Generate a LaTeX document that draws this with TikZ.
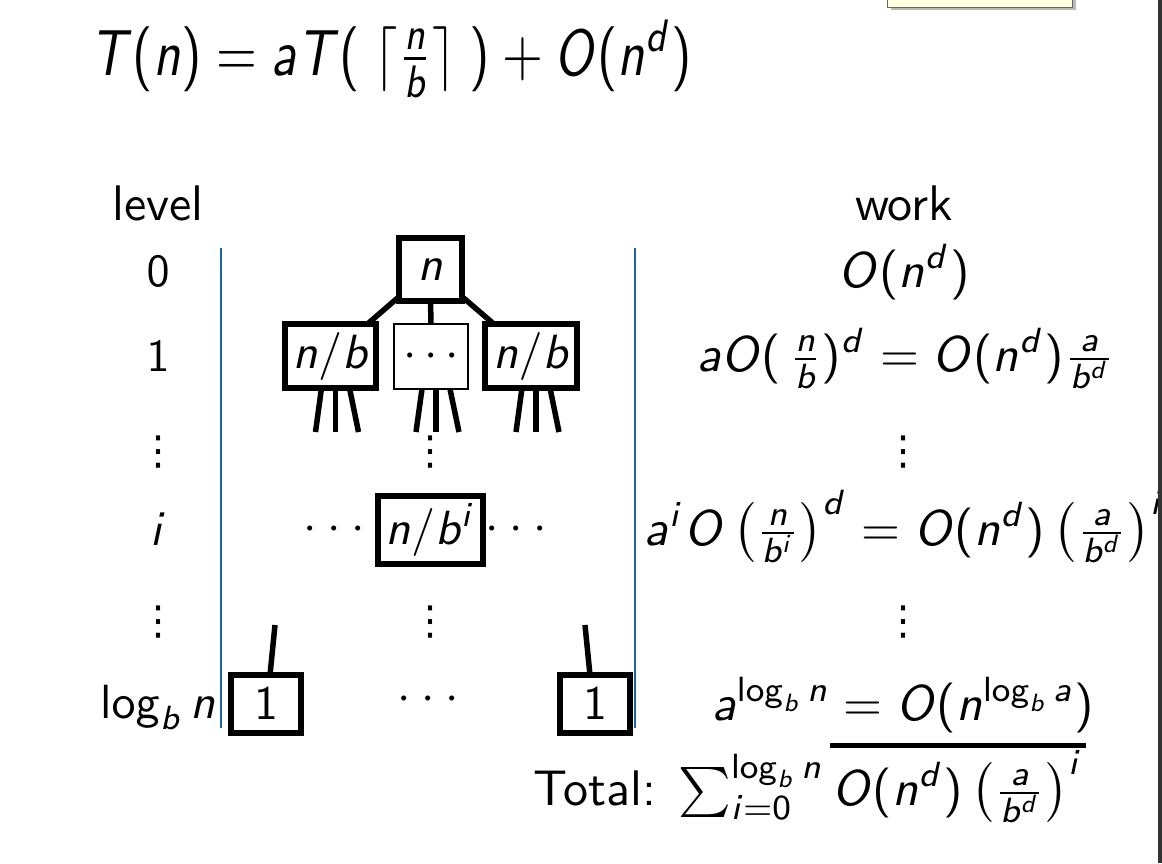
\documentclass[tikz,border=0pt]{standalone}
\usepackage{graphicx}
\usepackage[no-math]{fontspec}
\newfontfamily\dejavu{DejaVu Sans}
\SetSymbolFont{operators}{normal}{OT1}{cmss}{m}{n}
\SetSymbolFont{letters}{normal}{OT1}{cmss}{m}{sl}
\SetSymbolFont{symbols}{normal}{OMS}{cmsy}{m}{n}
\SetSymbolFont{largesymbols}{normal}{OMX}{cmex}{m}{n}
\mathcode`\/="002F
\newcommand{\sbx}[2]{\scalebox{#1}{#2}}
\newcommand{\myVd}{{\dejavu ⋮}}
\newcommand{\myDots}{$\cdot\mkern4mu{\cdot}\mkern4mu{\cdot}$}
\definecolor{rulecol}{RGB}{30,100,170}
\definecolor{tipfill}{RGB}{255,255,225}
\tikzset{
  treebox/.style={draw, line width=6pt, inner sep=0pt, outer sep=0pt},
  thinbox/.style={draw, line width=1.2pt, inner sep=0pt, outer sep=0pt},
  treeedge/.style={line width=5.5pt},
  mlabel/.style={anchor=base, inner sep=0pt},
  vd/.style={inner sep=0pt},
}
\begin{document}
\sffamily
\begin{tikzpicture}[x=1pt,y=-1pt]
\useasboundingbox (0,0) rectangle (1162,863);
\fill[white] (0,0) rectangle (1162,863);

% main equation
\node[anchor=base west, inner sep=0pt] (eq) at (90,75)
  {\scalebox{5.25}[6.5]{$T(n) = aT(\;\lceil \frac{n}{b}\rceil\;) + O(n^d)$}};

% headings
\node[mlabel] (lvl) at (158,220) {\sbx{5}{level}};
\node[mlabel] (wrk) at (904,220) {\sbx{5}{work}};

% separators
\draw[rulecol, line width=1.2pt] (221,248) -- (221,728);
\draw[rulecol, line width=1.2pt] (635,248) -- (635,728);

% level column
\node[mlabel] (l0) at (158,286) {\sbx{4.6}{$0$}};
\node[mlabel] (l1) at (158,371) {\sbx{4.6}{$1$}};
\node[vd] (lv1) at (158,452) {\sbx{4}{\myVd}};
\node[mlabel] (li) at (158,545) {\sbx{4.8}{$i$}};
\node[vd] (lv2) at (158,622) {\sbx{4}{\myVd}};
\node[mlabel] (llog) at (158,718) {\sbx{4.8}{$\log_b n$}};

% tree
\node[treebox, minimum width=63pt, minimum height=63pt] (root) at (430.5,269.5) {\sbx{4.8}{$n$}};
\node[treebox, minimum width=91pt, minimum height=64pt] (la) at (330.5,356) {\sbx{4.8}{$n/b$}};
\node[thinbox, minimum width=74pt, minimum height=65pt] (lm) at (431,356.5) {\sbx{4.8}{$\cdots$}};
\node[treebox, minimum width=92pt, minimum height=64pt] (lb) at (531,356) {\sbx{4.8}{$n/b$}};
\draw[treeedge] (root) -- (la);
\draw[treeedge] (root) -- (lm);
\draw[treeedge] (root) -- (lb);
\foreach \n/\c in {la/330.5, lm/431, lb/531}{
  \coordinate (\n-a) at (\c-15,432);
  \coordinate (\n-b) at (\c+5,432);
  \coordinate (\n-c) at (\c+28,432);
  \draw[treeedge] ([xshift=-9pt]\n.south) -- (\n-a);
  \draw[treeedge] ([xshift=5pt]\n.south) -- (\n-b);
  \draw[treeedge] ([xshift=19pt]\n.south) -- (\n-c);
}
\node[vd] (tv1) at (430,452) {\sbx{4}{\myVd}};
\node[treebox, minimum width=105pt, minimum height=68pt] (ti) at (430.5,530) {\sbx{4.8}{$n/b^i$}};
\node[mlabel] (tdl) at (334,540) {\sbx{4.8}{\myDots}};
\node[mlabel] (tdr) at (516,540) {\sbx{4.8}{\myDots}};
\node[vd] (tv2) at (430,622) {\sbx{4}{\myVd}};
\node[treebox, minimum width=70pt, minimum height=58pt] (ba) at (266,704) {\sbx{4.8}{$1$}};
\node[treebox, minimum width=70pt, minimum height=58pt] (bb) at (595,704) {\sbx{4.8}{$1$}};
\node[mlabel] (bd) at (428,710) {\sbx{4.8}{\myDots}};
\coordinate (bat) at (275,625);
\coordinate (bbt) at (585,625);
\draw[treeedge] (bat) -- ([xshift=4pt]ba.north);
\draw[treeedge] (bbt) -- ([xshift=-5pt]bb.north);

% work column
\node[mlabel] (w0) at (904,287) {\sbx{5}{$O(n^d)$}};
\node[mlabel] (w1) at (906,371) {\sbx{5}{$aO(\,\frac{n}{b})^d = O(n^d)\frac{a}{b^d}$}};
\node[vd] (wv1) at (903,452) {\sbx{4}{\myVd}};
\node[mlabel] (wi) at (905,545) {\sbx{5}{$a^i O\left(\frac{n}{b^i}\right)^d = O(n^d)\left(\frac{a}{b^d}\right)^i$}};
\node[vd] (wv2) at (903,622) {\sbx{4}{\myVd}};
\node[mlabel] (wl) at (903,720) {\sbx{5}{$a^{\log_b n} = O(n^{\log_b a})$}};
\draw[line width=5pt] (830,745) -- (1086,745);
\node[anchor=base west, inner sep=0pt] (tot) at (533,805)
  {\sbx{5}{Total: $\sum_{i=0}^{\log_b n} O(n^d)\left(\frac{a}{b^d}\right)^i$}};

% window chrome
\fill[gray!55] (891,-3) rectangle (1076,10);
\filldraw[fill=tipfill, draw=gray!80!black, line width=1pt] (887,-3) rectangle (1072,7);
\fill[black!80] (1158,0) rectangle (1162,863);
\end{tikzpicture}
\end{document}
